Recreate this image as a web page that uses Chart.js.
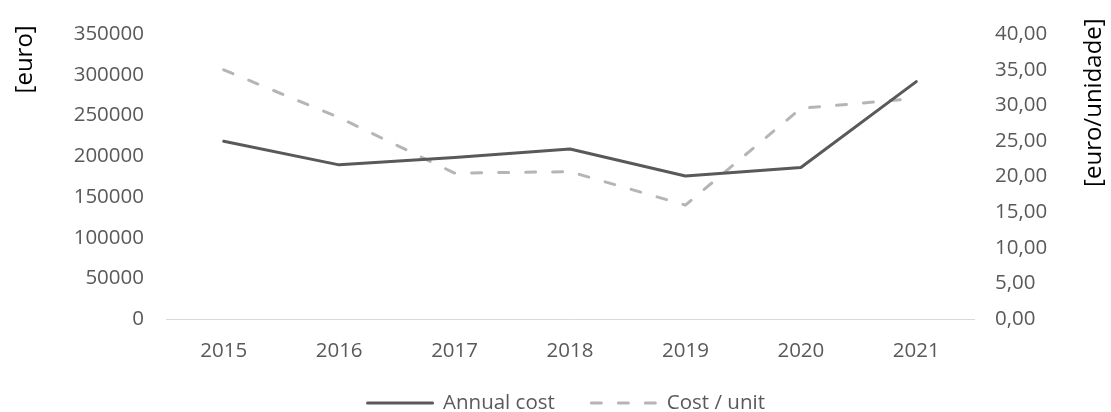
<!DOCTYPE html>
<html>
<head>
<meta charset="utf-8">
<script src="https://cdn.jsdelivr.net/npm/chart.js@4/dist/chart.umd.min.js"></script>
<style>
  html, body { margin: 0; padding: 0; background: #ffffff; }
  #wrap { width: 1111px; height: 412px; position: relative; }
</style>
</head>
<body>
<div id="wrap"><canvas id="chart" width="1111" height="412"></canvas></div>
<script>
// Years on the category axis
const years = ['2015', '2016', '2017', '2018', '2019', '2020', '2021'];
// Total yearly cost [euro]
const annualCost = [218500, 189500, 198500, 208900, 175800, 186200, 291800];
// Cost per unit [euro/unidade]
const costPerUnit = [35.0, 28.3, 20.5, 20.7, 16.0, 29.6, 31.0];
// Series names and axis titles
const seriesNames = ['Annual cost', 'Cost / unit'];
const leftTitle = '[euro]';
const rightTitle = '[euro/unidade]';

const FONT = "'Open Sans', 'Noto Sans', sans-serif";
const TICK_COLOR = '#595959';

// Rotated axis titles, both reading bottom-to-top and top-aligned
const axisTitles = {
  id: 'axisTitles',
  afterDraw(chart) {
    const ctx = chart.ctx;
    const top = chart.chartArea.top;
    ctx.save();
    ctx.font = '24px ' + FONT;
    ctx.fillStyle = '#000000';
    ctx.textBaseline = 'middle';
    ctx.textAlign = 'right';
    [[25, top - 9, leftTitle], [1094, top - 16, rightTitle]].forEach(([x, y, t]) => {
      ctx.save();
      ctx.translate(x, y);
      ctx.rotate(-Math.PI / 2);
      ctx.fillText(t, 0, 0);
      ctx.restore();
    });
    ctx.restore();
  }
};

// Legend with line samples, centred under the plot
const lineLegend = {
  id: 'lineLegend',
  afterDraw(chart) {
    const ctx = chart.ctx;
    const y = 403;
    const sample = 68, gapText = 9, gapItem = 35;
    ctx.save();
    ctx.font = '20.5px ' + FONT;
    const items = chart.data.datasets.map(ds => ({
      ds, w: ctx.measureText(ds.label).width
    }));
    let total = 0;
    items.forEach((it, i) => { total += sample + gapText + it.w + (i ? gapItem : 0); });
    let x = 565.5 - total / 2;
    items.forEach((it, i) => {
      if (i) x += gapItem;
      ctx.strokeStyle = it.ds.borderColor;
      ctx.lineWidth = it.ds.borderWidth;
      ctx.lineCap = 'round';
      ctx.setLineDash(it.ds.borderDash || []);
      ctx.beginPath();
      ctx.moveTo(x + 1.5, y);
      ctx.lineTo(x + sample - 1.5, y);
      ctx.stroke();
      ctx.setLineDash([]);
      x += sample + gapText;
      ctx.fillStyle = TICK_COLOR;
      ctx.textAlign = 'left';
      ctx.textBaseline = 'middle';
      ctx.fillText(it.ds.label, x, y);
      x += it.w;
    });
    ctx.restore();
  }
};

new Chart(document.getElementById('chart'), {
  type: 'line',
  data: {
    labels: years,
    datasets: [
      {
        label: seriesNames[0],
        data: annualCost,
        yAxisID: 'y',
        borderColor: '#595959',
        borderWidth: 3,
        borderCapStyle: 'round',
        borderJoinStyle: 'round',
        pointRadius: 0,
        tension: 0,
        fill: false
      },
      {
        label: seriesNames[1],
        data: costPerUnit,
        yAxisID: 'y1',
        borderColor: '#b5b5b5',
        borderWidth: 3,
        borderDash: [10, 17],
        borderCapStyle: 'round',
        borderJoinStyle: 'round',
        pointRadius: 0,
        tension: 0,
        fill: false
      }
    ]
  },
  options: {
    responsive: false,
    animation: false,
    devicePixelRatio: 1,
    layout: { padding: { top: 26, bottom: 33, left: 0, right: 0 } },
    plugins: {
      legend: { display: false },
      tooltip: { enabled: false },
      title: { display: false }
    },
    scales: {
      x: {
        offset: true,
        grid: { display: false, drawTicks: false },
        border: { display: true, color: '#d9d9d9', width: 1 },
        ticks: { color: TICK_COLOR, font: { family: FONT, size: 20.5 }, padding: 20, maxRotation: 0, autoSkip: false },
        afterFit(scale) { scale.height = 60; }
      },
      y: {
        position: 'left',
        min: 0, max: 350000,
        grid: { display: false, drawTicks: false },
        border: { display: false },
        ticks: {
          stepSize: 50000,
          color: TICK_COLOR,
          font: { family: FONT, size: 20.5 },
          padding: 22,
          callback: v => String(v)
        },
        afterFit(scale) { scale.width = 166; }
      },
      y1: {
        position: 'right',
        min: 0, max: 40,
        grid: { display: false, drawTicks: false },
        border: { display: false },
        ticks: {
          stepSize: 5,
          color: TICK_COLOR,
          font: { family: FONT, size: 20.5 },
          padding: 21,
          callback: v => Number(v).toFixed(2).replace('.', ',')
        },
        afterFit(scale) { scale.width = 137; }
      }
    }
  },
  plugins: [axisTitles, lineLegend]
});
</script>
</body>
</html>
